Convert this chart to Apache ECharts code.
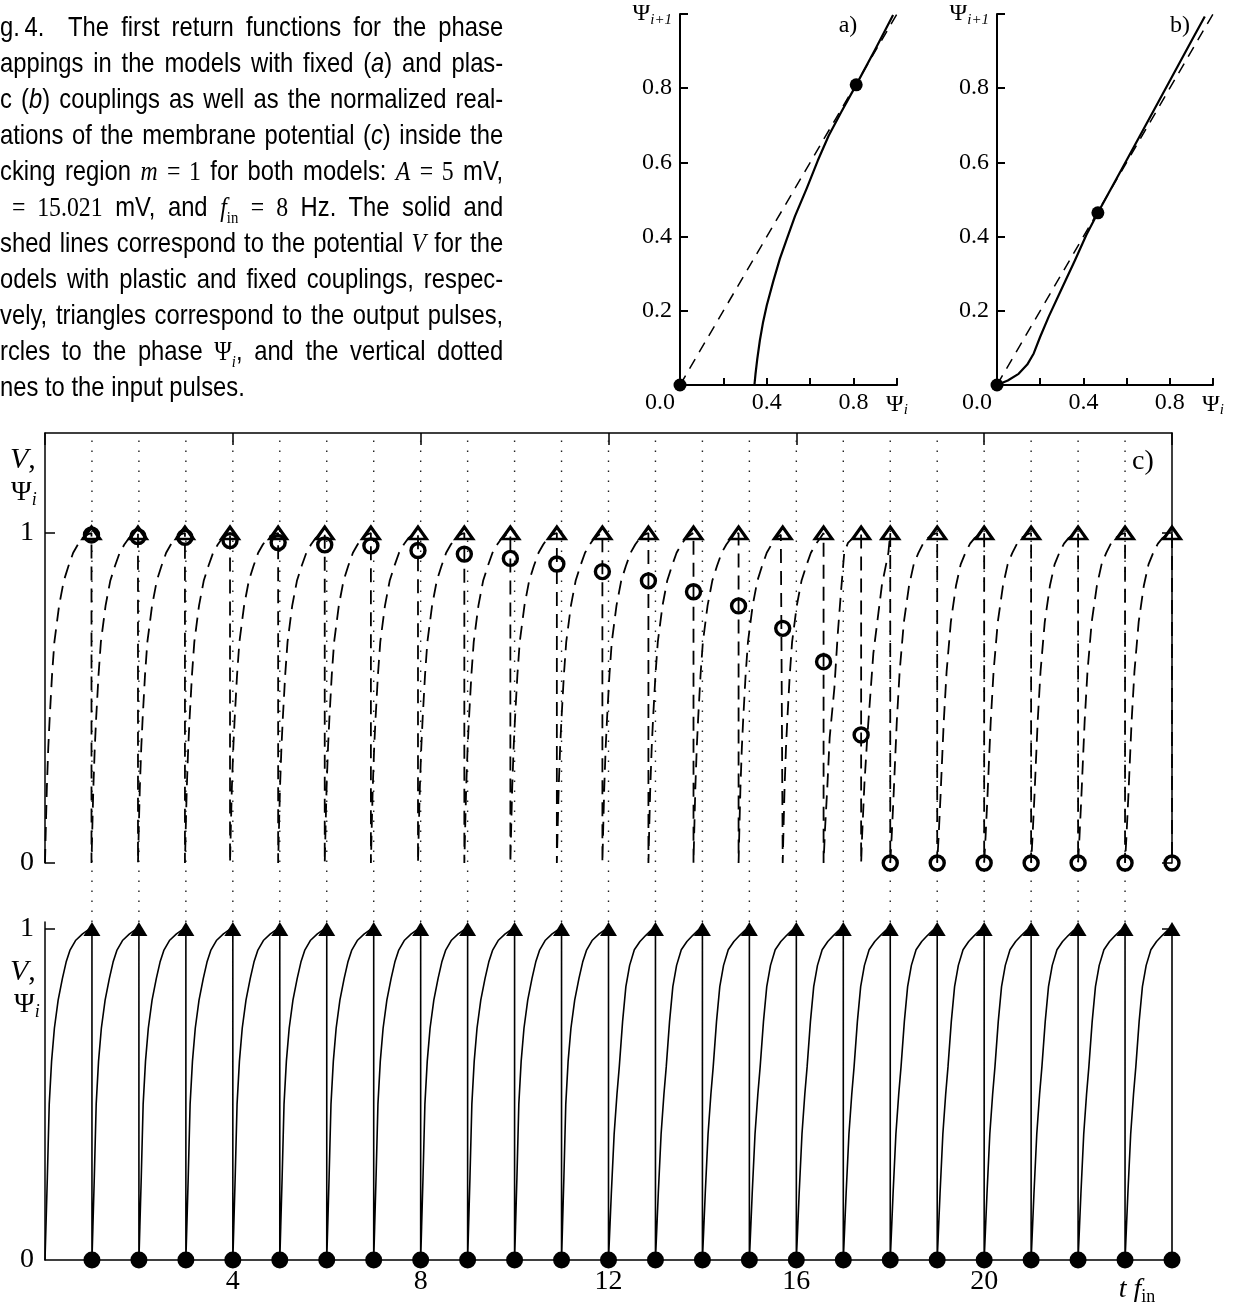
<!DOCTYPE html>
<html>
<head>
<meta charset="UTF-8">
<title>Fig. 4</title>
<script src="https://cdn.jsdelivr.net/npm/echarts@6/dist/echarts.min.js"></script>
<style>
html, body { margin: 0; padding: 0; background: #fff; }
#wrap { position: relative; width: 1241px; height: 1302px; overflow: hidden; }
#main { position: absolute; left: 0; top: 0; width: 1241px; height: 1302px; }
#cap { position: absolute; left: 0; top: 9px; width: 592px; transform: scaleX(0.85); transform-origin: 0 0;
       font: 28px 'Liberation Sans', Arial, sans-serif; color: #000; z-index: 2; }
.ln { height: 36px; line-height: 36px; text-align: justify; text-align-last: justify; }
.ln.last { text-align-last: left; }
.m { font-family: 'Liberation Serif', serif; }
.mi { font-family: 'Liberation Serif', serif; font-style: italic; }
.si { font-style: italic; }
sub { font-size: 0.62em; line-height: 0; }
</style>
</head>
<body>
<div id="wrap">
<div id="main"></div>
<div id="cap">
<div class="ln">g.&#8201;4.&ensp; The first return functions for the phase</div>
<div class="ln">appings in the models with fixed (<span class="si">a</span>) and plas-</div>
<div class="ln">c (<span class="si">b</span>) couplings as well as the normalized real-</div>
<div class="ln">ations of the membrane potential (<span class="si">c</span>) inside the</div>
<div class="ln">cking region <span class="mi">m</span> <span class="m">= 1</span> for both models: <span class="mi">A</span> <span class="m">= 5</span> mV,</div>
<div class="ln" style="padding-left:14px"><span class="m">= 15.021</span> mV, and <span class="mi">f</span><sub class="m">in</sub> <span class="m">= 8</span> Hz. The solid and</div>
<div class="ln">shed lines correspond to the potential <span class="mi">V</span> for the</div>
<div class="ln">odels with plastic and fixed couplings, respec-</div>
<div class="ln">vely, triangles correspond to the output pulses,</div>
<div class="ln">rcles to the phase <span class="m">&Psi;</span><sub class="mi">i</sub>, and the vertical dotted</div>
<div class="ln last">nes to the input pulses.</div>
</div>
</div>
<script type="text/javascript">
// ---- data ----
// panel a) first return map (fixed coupling); below 0.343 it lies on the axis
var mapAPsi  = [0.343, 0.348, 0.356, 0.368, 0.383, 0.40, 0.43, 0.46, 0.49, 0.53, 0.584, 0.635, 0.685, 0.745, 0.812, 0.9, 0.982];
var mapANext = [0, 0.03, 0.07, 0.12, 0.17, 0.215, 0.28, 0.34, 0.39, 0.455, 0.53, 0.605, 0.672, 0.738, 0.809, 0.905, 0.997];
var fixedA = [[0, 0], [0.812, 0.809]];
// panel b) first return map (plastic coupling)
var mapBPsi  = [0, 0.05, 0.1, 0.14, 0.17, 0.2, 0.24, 0.3, 0.36, 0.414, 0.467, 0.6, 0.75, 0.9, 0.962];
var mapBNext = [0, 0.012, 0.03, 0.055, 0.085, 0.13, 0.185, 0.26, 0.335, 0.405, 0.464, 0.606, 0.766, 0.927, 0.993];
var fixedB = [[0, 0], [0.467, 0.464]];
var diagPsi = [0, 1];

// panel c) input pulses, output pulses and phases
var inputTimes = [1, 2, 3, 4, 5, 6, 7, 8, 9, 10, 11, 12, 13, 14, 15, 16, 17, 18, 19, 20, 21, 22, 23];
var outTimes = [0.99, 1.98, 2.98, 3.94, 4.965, 5.957, 6.94, 7.943, 8.93, 9.91, 10.9, 11.87, 12.85,
                13.81, 14.77, 15.71, 16.58, 17.38, 18, 19, 20, 21, 22, 23, 24];
var phases = [0.994, 0.989, 0.987, 0.977, 0.971, 0.964, 0.961, 0.947, 0.936, 0.923, 0.906, 0.883, 0.855,
              0.822, 0.779, 0.711, 0.61, 0.388, 0, 0, 0, 0, 0, 0, 0];
var spikeTimes = [1, 2, 3, 4, 5, 6, 7, 8, 9, 10, 11, 12, 13, 14, 15, 16, 17, 18, 19, 20, 21, 22, 23, 24];

// shape of V after a reset (time since reset, value), fixed coupling (dashed)
var dashEarlyDt = [0, 0.02, 0.04, 0.07, 0.1, 0.15, 0.2, 0.3, 0.4, 0.5, 0.6, 0.7, 0.8, 0.9];
var dashEarlyV  = [0, 0.12, 0.23, 0.35, 0.44, 0.57, 0.67, 0.78, 0.855, 0.9, 0.94, 0.965, 0.985, 0.995];
var dashLateDt  = [0, 0.03, 0.07, 0.1, 0.14, 0.2, 0.29, 0.4, 0.5, 0.6, 0.7, 0.8, 0.9];
var dashLateV   = [0, 0.08, 0.2, 0.3, 0.43, 0.58, 0.73, 0.84, 0.905, 0.94, 0.968, 0.985, 0.995];
// the two short cycles between 16.58 and 18
var dashBurst = [[16.58, 0], [16.61, 0.1], [16.66, 0.23], [16.71, 0.38], [16.81, 0.53], [16.88, 0.69],
                 [16.95, 0.82], [17.02, 0.94], [17.1, 0.97], [17.24, 0.99], [17.38, 1], [17.38, 0],
                 [17.4, 0.08], [17.45, 0.24], [17.51, 0.38], [17.64, 0.635], [17.82, 0.84], [17.96, 0.94],
                 [18, 1], [18, 0]];
// plastic coupling (solid)
var solidEarlyDt = [0, 0.02, 0.05, 0.09, 0.14, 0.2, 0.28, 0.37, 0.45, 0.53, 0.65, 0.8, 0.92];
var solidEarlyV  = [0, 0.1, 0.25, 0.47, 0.6, 0.7, 0.785, 0.85, 0.9, 0.935, 0.965, 0.985, 0.997];
var solidLateDt  = [0, 0.03, 0.06, 0.12, 0.18, 0.23, 0.3, 0.37, 0.45, 0.55, 0.67, 0.79, 0.9];
var solidLateV   = [0, 0.1, 0.2, 0.38, 0.5, 0.584, 0.72, 0.826, 0.89, 0.937, 0.962, 0.98, 0.995];

var mapTicks = [0, 0.2, 0.4, 0.6, 0.8, 1];
var mapXLabels = [0, 0.4, 0.8, 1];
var mapYLabels = [0.2, 0.4, 0.6, 0.8, 1];
var timeLabels = [4, 8, 12, 16, 20];
var levelTicks = [0, 1];

// ---- build the paths ----
function zip(a, b) {
    return a.map(function (x, i) { return [x, b[i]]; });
}
function cycle(t0, t1, dts, vs) {
    var pts = [];
    for (var i = 0; i < dts.length; i++) {
        if (t0 + dts[i] < t1 - 0.005) pts.push([t0 + dts[i], vs[i]]);
    }
    pts.push([t1, 1]);
    pts.push([t1, 0]);
    return pts;
}

var dashPath = [];
for (var k = 0; k < outTimes.length; k++) {
    var t0 = k === 0 ? 0 : outTimes[k - 1];
    var t1 = outTimes[k];
    if (t1 > 16.58 && t1 <= 18) continue;
    if (t0 < 18) dashPath = dashPath.concat(cycle(t0, t1, dashEarlyDt, dashEarlyV));
    else dashPath = dashPath.concat(cycle(t0, t1, dashLateDt, dashLateV));
    if (t1 === 16.58) dashPath = dashPath.concat(dashBurst);
}

var solidPath = [];
for (var n = 0; n < spikeTimes.length; n++) {
    var s0 = n === 0 ? 0 : spikeTimes[n - 1];
    if (n < 12) solidPath = solidPath.concat(cycle(s0, spikeTimes[n], solidEarlyDt, solidEarlyV));
    else solidPath = solidPath.concat(cycle(s0, spikeTimes[n], solidLateDt, solidLateV));
}

// ---- chart ----
var black = '#000';
var serif = "'Liberation Serif', 'DejaVu Serif', serif";

function rich(size) {
    return {
        p: { fontFamily: serif, fontSize: size, color: black },
        s: { fontFamily: serif, fontSize: Math.round(size * 0.64), fontStyle: 'italic', color: black,
             padding: [Math.round(size * 0.5), 0, 0, 0] },
        r: { fontFamily: serif, fontSize: Math.round(size * 0.64), color: black,
             padding: [Math.round(size * 0.5), 0, 0, 0] },
        i: { fontFamily: serif, fontSize: size, fontStyle: 'italic', color: black },
        z: { fontFamily: serif, fontSize: size, color: black, padding: [0, 40, 0, 0] }
    };
}

function mapXAxis(g) {
    return {
        type: 'value', gridIndex: g, min: 0, max: 1, interval: 0.2,
        axisLine: { show: true, onZero: false, lineStyle: { color: black, width: 2 } },
        axisTick: { show: true, inside: true, length: 7, customValues: mapTicks, lineStyle: { color: black, width: 2 } },
        splitLine: { show: false },
        axisLabel: {
            margin: 6, color: black, fontFamily: serif, fontSize: 24,
            showMinLabel: true, showMaxLabel: true, customValues: mapXLabels,
            formatter: function (v) {
                var r = Math.round(v * 10);
                if (r === 0) return '{z|0.0}';
                if (r === 10) return '{p|Ψ}{s|i}';
                if (r === 4 || r === 8) return v.toFixed(1);
                return '';
            },
            rich: rich(24)
        }
    };
}
function mapYAxis(g) {
    return {
        type: 'value', gridIndex: g, min: 0, max: 1, interval: 0.2,
        axisLine: { show: true, onZero: false, lineStyle: { color: black, width: 2 } },
        axisTick: { show: true, inside: true, length: 8, customValues: mapTicks, lineStyle: { color: black, width: 2 } },
        splitLine: { show: false },
        axisLabel: {
            margin: 8, color: black, fontFamily: serif, fontSize: 24,
            showMinLabel: true, showMaxLabel: true, customValues: mapYLabels,
            formatter: function (v) {
                var r = Math.round(v * 10);
                if (r === 10) return '{p|Ψ}{s|i+1}';
                if (r === 0) return '';
                return v.toFixed(1);
            },
            rich: rich(24)
        }
    };
}
function levelAxis(g, pos, max, showLine, labels, ticks) {
    return {
        type: 'value', gridIndex: g, position: pos, min: 0, max: max, interval: 1,
        axisLine: { show: showLine, onZero: false, lineStyle: { color: black, width: 1.5 } },
        axisTick: { show: ticks.length > 0, inside: true, length: 10, customValues: ticks,
                    lineStyle: { color: black, width: 1.5 } },
        splitLine: { show: false },
        axisLabel: {
            show: labels, margin: 11, color: black, fontFamily: serif, fontSize: 28,
            customValues: levelTicks,
            formatter: function (v) { return (v === 0 || v === 1) ? String(v) : ''; }
        }
    };
}

var dotted = inputTimes.map(function (t) {
    return {
        type: 'line', xAxisIndex: 4, yAxisIndex: 6, data: [[t, 0], [t, 1]],
        symbol: 'none', silent: true, clip: false, z: 1,
        lineStyle: { color: '#222', width: 1.4, type: [1.5, 8.5] }
    };
});

var solidMark = { color: black, opacity: 1 };
var hollowMark = { color: 'rgba(0,0,0,0)', borderColor: black, opacity: 1 };

var option = {
    animation: false,
    backgroundColor: '#fff',
    grid: [
        { left: 680, top: 14, width: 217, height: 371 },
        { left: 997, top: 14, width: 216, height: 371 },
        { left: 45, top: 433, width: 1127, height: 430 },
        { left: 45, top: 922, width: 1127, height: 338 },
        { left: 45, top: 433, width: 1127, height: 489 }
    ],
    xAxis: [
        mapXAxis(0),
        mapXAxis(1),
        {
            type: 'value', gridIndex: 2, position: 'top', min: 0, max: 24, interval: 4,
            axisLine: { show: true, onZero: false, lineStyle: { color: black, width: 1.5 } },
            axisTick: { show: true, inside: true, length: 12, lineStyle: { color: black, width: 1.5 } },
            axisLabel: { show: false }, splitLine: { show: false }
        },
        {
            type: 'value', gridIndex: 3, position: 'bottom', min: 0, max: 24, interval: 4,
            axisLine: { show: true, onZero: false, lineStyle: { color: black, width: 1.5 } },
            axisTick: { show: false },
            axisLabel: {
                margin: 8, color: black, fontFamily: serif, fontSize: 28, customValues: timeLabels,
                formatter: function (v) { return (v > 0 && v < 24) ? String(v) : ''; }
            },
            splitLine: { show: false }
        },
        { type: 'value', gridIndex: 4, min: 0, max: 24, show: false }
    ],
    yAxis: [
        mapYAxis(0),
        mapYAxis(1),
        levelAxis(2, 'left', 1.303, true, true, levelTicks),
        levelAxis(2, 'right', 1.303, true, false, levelTicks),
        levelAxis(3, 'left', 1.021, true, true, [1]),
        levelAxis(3, 'right', 1.021, false, false, [1]),
        { type: 'value', gridIndex: 4, min: 0, max: 1, show: false }
    ],
    series: dotted.concat([
        // panel a
        { type: 'line', xAxisIndex: 0, yAxisIndex: 0, data: zip(diagPsi, diagPsi), symbol: 'none', clip: false,
          lineStyle: { color: black, width: 1.5, type: [11, 8] } },
        { type: 'line', xAxisIndex: 0, yAxisIndex: 0, data: [[0, 0], [mapAPsi[0], 0]], symbol: 'none', clip: false,
          lineStyle: { color: black, width: 2.2 } },
        { type: 'line', xAxisIndex: 0, yAxisIndex: 0, data: zip(mapAPsi, mapANext), symbol: 'none', clip: false,
          lineStyle: { color: black, width: 2.2, join: 'round' } },
        { type: 'scatter', xAxisIndex: 0, yAxisIndex: 0, data: fixedA, symbolSize: 13, clip: false,
          itemStyle: solidMark, z: 5 },
        // panel b
        { type: 'line', xAxisIndex: 1, yAxisIndex: 1, data: zip(diagPsi, diagPsi), symbol: 'none', clip: false,
          lineStyle: { color: black, width: 1.5, type: [11, 8] } },
        { type: 'line', xAxisIndex: 1, yAxisIndex: 1, data: zip(mapBPsi, mapBNext), symbol: 'none', clip: false,
          lineStyle: { color: black, width: 2.2, join: 'round' } },
        { type: 'scatter', xAxisIndex: 1, yAxisIndex: 1, data: fixedB, symbolSize: 13, clip: false,
          itemStyle: solidMark, z: 5 },
        // panel c, fixed coupling
        { type: 'line', xAxisIndex: 2, yAxisIndex: 2, data: dashPath, symbol: 'none', clip: false, z: 2,
          lineStyle: { color: black, width: 1.8, type: [14, 8] } },
        { type: 'scatter', xAxisIndex: 2, yAxisIndex: 2, symbol: 'triangle', symbolSize: [17, 12], clip: false, z: 6,
          data: outTimes.map(function (t) { return [t, 1]; }),
          itemStyle: Object.assign({ borderWidth: 3 }, hollowMark) },
        { type: 'scatter', xAxisIndex: 2, yAxisIndex: 2, symbol: 'circle', symbolSize: 14, clip: false, z: 6,
          data: zip(outTimes, phases),
          itemStyle: Object.assign({ borderWidth: 3.4 }, hollowMark) },
        // plastic coupling
        { type: 'line', xAxisIndex: 3, yAxisIndex: 4, data: solidPath, symbol: 'none', clip: false, z: 2,
          lineStyle: { color: black, width: 1.6 } },
        { type: 'scatter', xAxisIndex: 3, yAxisIndex: 4, symbol: 'triangle', symbolSize: [17, 14], clip: false, z: 6,
          data: spikeTimes.map(function (t) { return [t, 1]; }), itemStyle: solidMark },
        { type: 'scatter', xAxisIndex: 3, yAxisIndex: 4, symbol: 'circle', symbolSize: 17, clip: false, z: 6,
          data: spikeTimes.map(function (t) { return [t, 0]; }), itemStyle: solidMark }
    ]),
    graphic: [
        { type: 'text', x: 848, y: 26, style: { text: 'a)', font: "24px 'Liberation Serif', serif", fill: black, align: 'center', verticalAlign: 'middle' } },
        { type: 'text', x: 1180, y: 26, style: { text: 'b)', font: "24px 'Liberation Serif', serif", fill: black, align: 'center', verticalAlign: 'middle' } },
        { type: 'text', x: 1143, y: 462, style: { text: 'c)', font: "28px 'Liberation Serif', serif", fill: black, align: 'center', verticalAlign: 'middle' } },
        { type: 'text', x: 10, y: 460, style: { text: '{i|V},', font: "30px 'Liberation Serif', serif", fill: black, align: 'left', verticalAlign: 'middle', rich: rich(30) } },
        { type: 'text', x: 11, y: 493, style: { text: '{p|Ψ}{s|i}', fill: black, align: 'left', verticalAlign: 'middle', rich: rich(28) } },
        { type: 'text', x: 10, y: 972, style: { text: '{i|V},', font: "30px 'Liberation Serif', serif", fill: black, align: 'left', verticalAlign: 'middle', rich: rich(30) } },
        { type: 'text', x: 14, y: 1005, style: { text: '{p|Ψ}{s|i}', fill: black, align: 'left', verticalAlign: 'middle', rich: rich(28) } },
        { type: 'text', x: 1137, y: 1290, style: { text: '{i|t f}{r|in}', fill: black, align: 'center', verticalAlign: 'middle', rich: rich(28) } }
    ]
};

var myChart = echarts.init(document.getElementById('main'));
myChart.setOption(option);
</script>
</body>
</html>
